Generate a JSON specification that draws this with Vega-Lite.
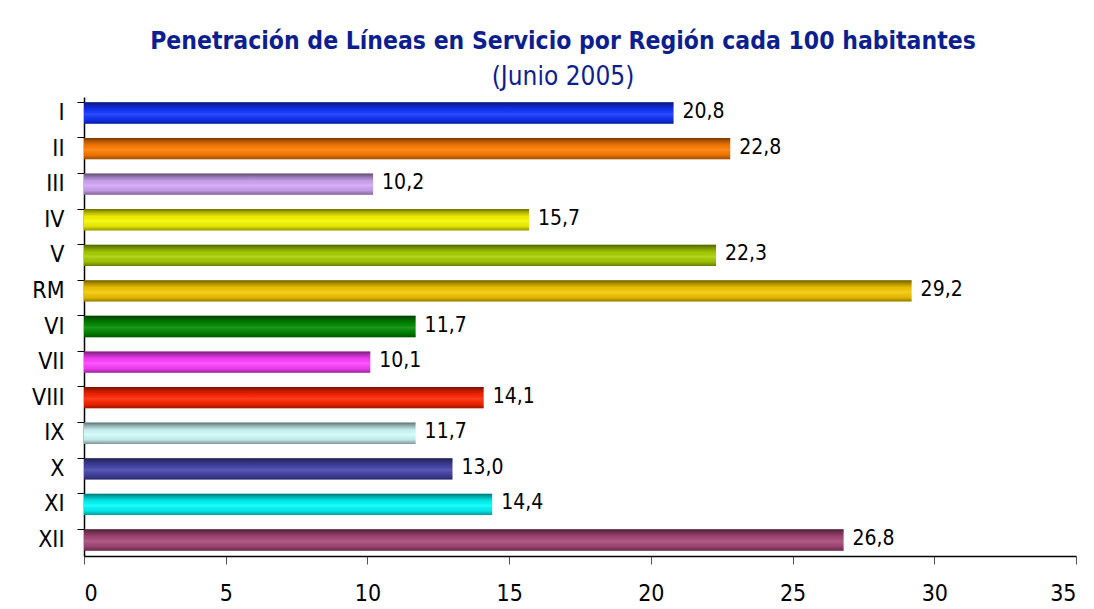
{
  "$schema": "https://vega.github.io/schema/vega-lite/v6.json",
  "width": 992,
  "height": 459,
  "autosize": {"type": "none"},
  "padding": {"left": 84, "top": 97, "right": 18, "bottom": 53},
  "background": "white",
  "title": {
    "text": "Penetración de Líneas en Servicio por Región cada 100 habitantes",
    "subtitle": "(Junio 2005)",
    "anchor": "middle",
    "dx": -17,
    "offset": 6,
    "font": "Liberation Sans Narrow, DejaVu Sans Condensed, sans-serif",
    "fontSize": 24.5,
    "fontWeight": "bold",
    "color": "#0d1f8f",
    "subtitleFont": "Liberation Sans Narrow, DejaVu Sans Condensed, sans-serif",
    "subtitleFontSize": 26,
    "subtitleColor": "#0d1f8f",
    "subtitlePadding": 10
  },
  "config": {
    "locale": {"number": {"decimal": ",", "thousands": ".", "grouping": [3], "currency": ["", " €"]}},
    "view": {"stroke": null},
    "axis": {
      "labelFont": "Liberation Sans Narrow, DejaVu Sans Condensed, sans-serif",
      "labelFontSize": 23,
      "labelColor": "#000000",
      "domainColor": "#000000",
      "tickColor": "#000000",
      "grid": false,
      "title": null
    }
  },
  "data": {
    "values": [
      {"region": "I", "value": 20.8, "color": "#1235ff"},
      {"region": "II", "value": 22.8, "color": "#ff7c00"},
      {"region": "III", "value": 10.2, "color": "#d2a6f7"},
      {"region": "IV", "value": 15.7, "color": "#f8f800"},
      {"region": "V", "value": 22.3, "color": "#a8cf00"},
      {"region": "RM", "value": 29.2, "color": "#f5c800"},
      {"region": "VI", "value": 11.7, "color": "#008a00"},
      {"region": "VII", "value": 10.1, "color": "#ff40ff"},
      {"region": "VIII", "value": 14.1, "color": "#ff2400"},
      {"region": "IX", "value": 11.7, "color": "#d2fcfc"},
      {"region": "X", "value": 13.0, "color": "#4444a8"},
      {"region": "XI", "value": 14.4, "color": "#00fafa"},
      {"region": "XII", "value": 26.8, "color": "#a84878"}
    ]
  },
  "encoding": {
    "y": {
      "field": "region",
      "type": "nominal",
      "sort": null,
      "scale": {"paddingInner": 0.4, "paddingOuter": 0.15},
      "axis": {"bandPosition": 0, "tickSize": 7, "labelPadding": 13, "domainWidth": 1.5}
    },
    "x": {
      "field": "value",
      "type": "quantitative",
      "scale": {"domain": [0, 35], "nice": false},
      "axis": {"values": [0, 5, 10, 15, 20, 25, 30, 35], "tickSize": 8, "tickColor": "#555555", "labelPadding": 18, "domainWidth": 1.5}
    }
  },
  "layer": [
    {
      "mark": {"type": "bar"},
      "encoding": {"color": {"field": "color", "type": "nominal", "scale": null}}
    },
    {
      "mark": {
        "type": "bar",
        "color": {
          "gradient": "linear",
          "x1": 0, "y1": 0, "x2": 0, "y2": 1,
          "stops": [
            {"offset": 0, "color": "rgba(0,0,0,0.55)"},
            {"offset": 0.15, "color": "rgba(0,0,0,0.3)"},
            {"offset": 0.35, "color": "rgba(0,0,0,0.05)"},
            {"offset": 0.55, "color": "rgba(255,255,255,0.12)"},
            {"offset": 0.8, "color": "rgba(0,0,0,0.08)"},
            {"offset": 1, "color": "rgba(0,0,0,0.4)"}
          ]
        }
      }
    },
    {
      "mark": {
        "type": "text",
        "align": "left",
        "baseline": "middle",
        "dx": 9,
        "dy": -1,
        "font": "Liberation Sans Narrow, DejaVu Sans Condensed, sans-serif",
        "fontSize": 21,
        "color": "#000000"
      },
      "encoding": {"text": {"field": "value", "type": "quantitative", "format": ".1f"}}
    }
  ]
}
